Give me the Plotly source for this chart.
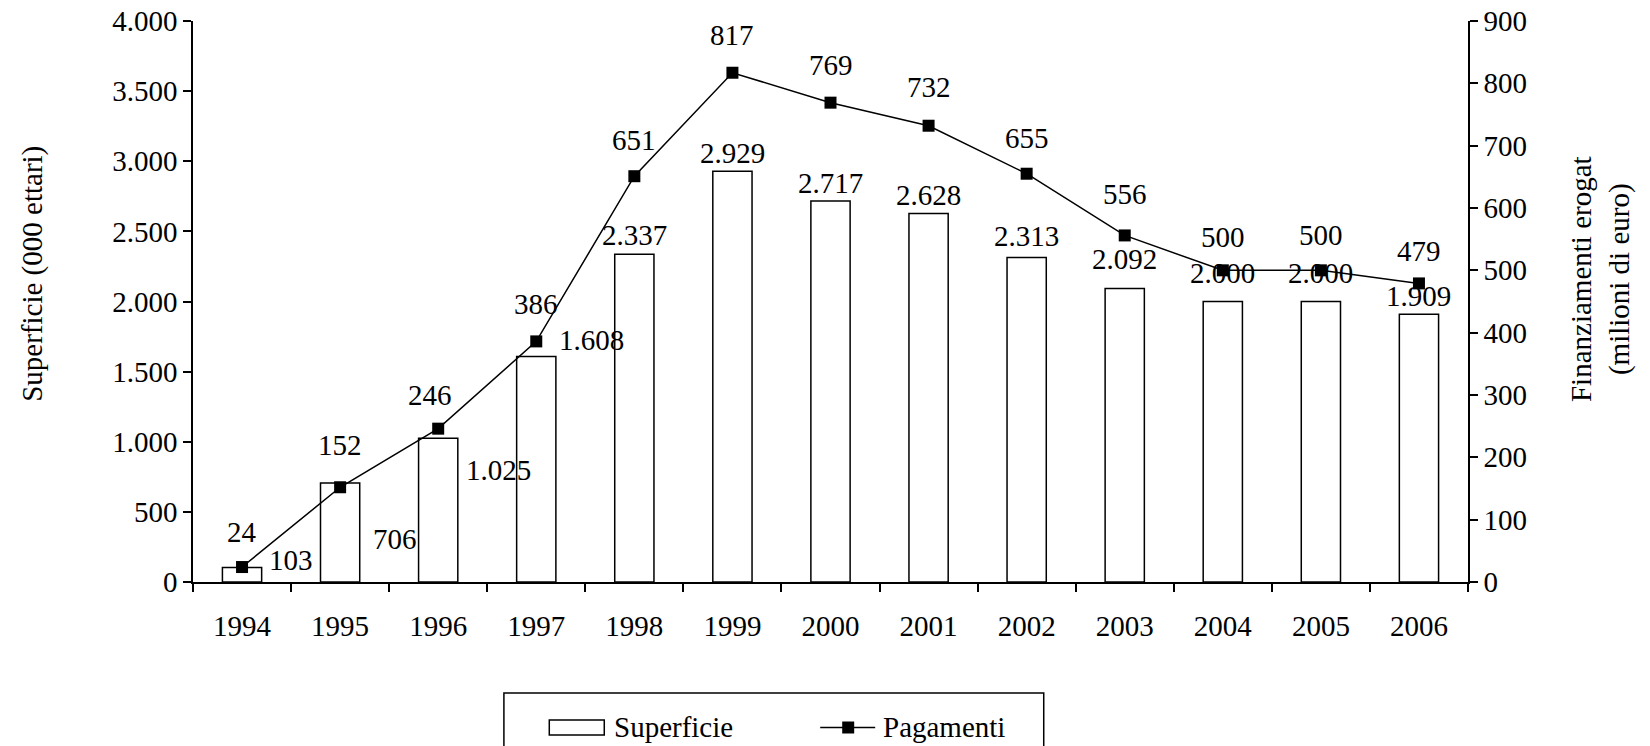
import plotly.graph_objects as go

years = ["1994", "1995", "1996", "1997", "1998", "1999", "2000",
         "2001", "2002", "2003", "2004", "2005", "2006"]
superficie = [103, 706, 1025, 1608, 2337, 2929, 2717, 2628, 2313, 2092, 2000, 2000, 1909]
pagamenti = [24, 152, 246, 386, 651, 817, 769, 732, 655, 556, 500, 500, 479]
series_names = ["Superficie", "Pagamenti"]

# label offsets (pixels) mimicking the original label placement
bar_lbl_dx = [49, 55, 60, 55, 0, 0, 0, 0, 0, 0, 0, 0, 0]
bar_lbl_dy = [8, -56, -32, 16, 19, 18, 18, 18, 22, 30, 29, 29, 18]
line_lbl_dx = [0, 0, -8, 0, 0, 0, 0, 0, 0, 0, 0, 0, 0]
line_lbl_dy = [35, 42, 34, 37, 36, 38, 38, 39, 36, 41, 33, 35, 32]

FONT = "Liberation Serif, Times New Roman, serif"
FS = 29

# plot area in page pixels (body margin removed below)
PL, PR, PT, PB = 192.6, 1468.0, 21.0, 582.0
W, H = 1650, 746


def px(x):
    return (x - PL) / (PR - PL)


def py(y):
    return (PB - y) / (PB - PT)


def fmt(v):
    return f"{v:,}".replace(",", ".")


fig = go.Figure()
fig.add_trace(go.Bar(
    x=years, y=superficie, name=series_names[0],
    marker=dict(color="white", line=dict(color="black", width=1.5)),
    yaxis="y", xaxis="x", showlegend=False,
))
fig.add_trace(go.Scatter(
    x=years, y=pagamenti, name=series_names[1], mode="lines+markers",
    line=dict(color="black", width=1.5),
    marker=dict(symbol="square", size=12, color="black"),
    yaxis="y2", xaxis="x", showlegend=False,
))

ann = []
# on a category axis annotations take the category serial number
for i, v in enumerate(superficie):
    ann.append(dict(x=i, y=v, xref="x", yref="y", text=fmt(v), showarrow=False,
                    xshift=bar_lbl_dx[i], yshift=bar_lbl_dy[i], yanchor="middle",
                    xanchor="center",
                    font=dict(family=FONT, size=FS, color="black")))
for i, v in enumerate(pagamenti):
    ann.append(dict(x=i, y=v, xref="x", yref="y2", text=fmt(v), showarrow=False,
                    xshift=line_lbl_dx[i], yshift=line_lbl_dy[i], yanchor="middle",
                    xanchor="center",
                    font=dict(family=FONT, size=FS, color="black")))

ann.append(dict(x=-0.126, y=0.55, xref="paper", yref="paper", textangle=-90,
                xanchor="center", yanchor="middle",
                text="Superficie (000 ettari)", showarrow=False,
                font=dict(family=FONT, size=FS, color="black")))
ann.append(dict(x=1.1035, y=0.54, xref="paper", yref="paper", textangle=-90,
                xanchor="center", yanchor="middle",
                text="Finanziamenti erogat<br>(milioni di euro)", showarrow=False,
                font=dict(family=FONT, size=FS, color="black")))

# legend (drawn as in the original: wide box icon, line+square icon, framed)
ann.append(dict(x=px(612), y=py(727), xref="paper", yref="paper", text=series_names[0],
                showarrow=False, xanchor="left", yanchor="middle",
                font=dict(family=FONT, size=FS, color="black")))
ann.append(dict(x=px(881), y=py(727), xref="paper", yref="paper", text=series_names[1],
                showarrow=False, xanchor="left", yanchor="middle",
                font=dict(family=FONT, size=FS, color="black")))
shapes = [
    dict(type="rect", xref="paper", yref="paper", x0=px(503.6), x1=px(1043.6),
         y0=py(693), y1=py(770), line=dict(color="black", width=1.5),
         fillcolor="rgba(0,0,0,0)"),
    dict(type="rect", xref="paper", yref="paper", x0=px(549), x1=px(604),
         y0=py(720), y1=py(735), line=dict(color="black", width=1.5),
         fillcolor="white"),
    dict(type="line", xref="paper", yref="paper", x0=px(820), x1=px(875),
         y0=py(727.5), y1=py(727.5), line=dict(color="black", width=1.5)),
    dict(type="rect", xref="paper", yref="paper", x0=px(842), x1=px(854),
         y0=py(721.5), y1=py(733.5), line=dict(color="black", width=0),
         fillcolor="black"),
]

axis_common = dict(showgrid=False, zeroline=False, showline=True, linecolor="black",
                   linewidth=1.5, tickcolor="black", tickwidth=1.5, ticklen=8,
                   ticklabeloverflow="allow",
                   tickfont=dict(family=FONT, size=FS, color="black"))

fig.update_layout(
    width=W, height=H,
    paper_bgcolor="white", plot_bgcolor="white",
    margin=dict(l=PL, r=W - PR, t=PT, b=H - PB, autoexpand=False),
    separators=",.",
    bargap=0.6,
    showlegend=False,
    xaxis=dict(**axis_common, type="category", ticks="outside", tickson="boundaries",
               ticklabelstandoff=17, range=[-0.5, len(years) - 0.5]),
    xaxis2=dict(**axis_common, overlaying="x", anchor="y", side="bottom", type="linear",
                range=[-0.5, len(years) - 0.5], tick0=-0.5, dtick=1, ticks="inside",
                showticklabels=False),
    yaxis=dict(**axis_common, range=[0, 4000], dtick=500, tickformat=",.0f",
               ticks="outside"),
    yaxis3=dict(**axis_common, range=[0, 4000], dtick=500, overlaying="y", side="left",
                anchor="x", ticks="inside", showticklabels=False),
    yaxis2=dict(**axis_common, range=[0, 900], dtick=100, overlaying="y", side="right",
                anchor="x", ticks="outside"),
    yaxis4=dict(**axis_common, range=[0, 900], dtick=100, overlaying="y", side="right",
                anchor="x", ticks="inside", showticklabels=False),
    annotations=ann,
    shapes=shapes,
)

fig.write_html("out.html",
               config={"displayModeBar": False},
               post_script="document.body.style.margin='0px';"
                           "document.body.style.overflow='hidden';")
